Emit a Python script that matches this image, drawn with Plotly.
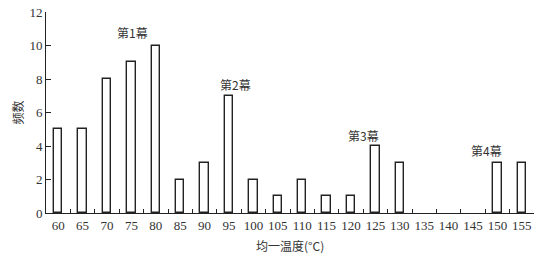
import plotly.graph_objects as go

temps = [60, 65, 70, 75, 80, 85, 90, 95, 100, 105, 110, 115, 120, 125, 130, 135, 140, 145, 150, 155]
freq = [5, 5, 8, 9, 10, 2, 3, 7, 2, 1, 2, 1, 1, 4, 3, 0, 0, 0, 3, 3]
cats = [str(t) for t in temps]

stage_labels = ["第1幕", "第2幕", "第3幕", "第4幕"]
stage_x = [3.05, 7.27, 12.5, 17.55]
stage_y = [10.8, 7.65, 4.65, 3.75]

fig = go.Figure()
fig.add_trace(go.Bar(
    x=list(range(len(cats))), y=[v if v > 0 else None for v in freq],
    width=0.34,
    marker=dict(color="white", line=dict(color="#222", width=1.4)),
))

font = dict(family="Liberation Serif, Times New Roman, serif", size=13, color="#333")
cjk = dict(family="Noto Sans CJK SC, Liberation Serif, serif", size=12, color="#333")

for lab, x, y in zip(stage_labels, stage_x, stage_y):
    fig.add_annotation(x=x, y=y, text=lab, showarrow=False, font=cjk,
                       xanchor="center", yanchor="middle")

fig.add_annotation(x=0.5, y=-0.16, xref="paper", yref="paper", yanchor="middle",
                   text="均一温度(°C)", showarrow=False, font=cjk)
fig.add_annotation(x=-0.036, y=0.5, xref="paper", yref="paper", xanchor="right",
                   text="频数", showarrow=False, font=cjk, textangle=-90)

fig.update_layout(
    width=550, height=259,
    margin=dict(l=46, r=16, t=12, b=46),
    plot_bgcolor="white", paper_bgcolor="white",
    showlegend=False,
    bargap=0,
)
fig.update_xaxes(
    range=[-0.5, 19.5], automargin=False,
    tickmode="array",
    tickvals=list(range(len(cats))), ticktext=cats,
    showline=True, linecolor="#222", linewidth=1,
    ticks="", showgrid=False, zeroline=False,
    tickfont=font,
)
# boundary ticks (inside, pointing up)
fig.update_layout(xaxis2=dict(
    overlaying="x", range=[-0.5, 19.5], automargin=False,
    tickmode="array", tickvals=[i + 0.5 for i in range(19)],
    ticks="inside", ticklen=4, tickcolor="#222", tickwidth=1,
    showticklabels=False, showgrid=False, zeroline=False, showline=False,
    anchor="y", side="bottom",
))
fig.add_trace(go.Scatter(x=[0], y=[0], xaxis="x2", mode="markers",
                         marker=dict(opacity=0), hoverinfo="skip"))
fig.update_yaxes(
    range=[0, 12], tickvals=[0, 2, 4, 6, 8, 10, 12], automargin=False,
    showline=True, linecolor="#222", linewidth=1,
    ticks="inside", ticklen=5, tickcolor="#222",
    showgrid=False, zeroline=False,
    tickfont=font,
)

fig.write_html("out.html", config={"displayModeBar": False},
               post_script="document.body.style.margin='0';document.body.style.overflow='hidden';")
